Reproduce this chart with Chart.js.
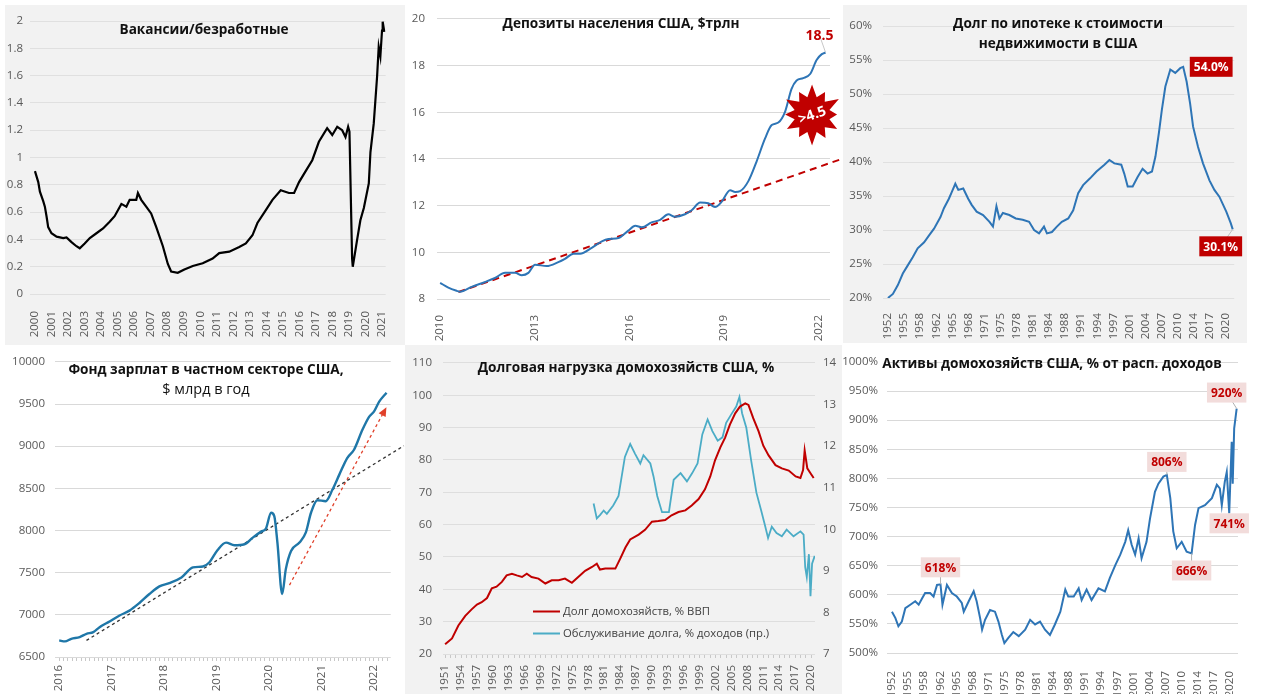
<!DOCTYPE html>
<html>
<head>
<meta charset="utf-8">
<script src="https://cdn.jsdelivr.net/npm/chart.js@4.4.1/dist/chart.umd.min.js"></script>
<style>
  body { margin: 0; width: 1280px; height: 694px; position: relative; overflow: hidden; background: #fff; font-family: 'Open Sans', sans-serif; }
  .panel { position: absolute; }
  .panel canvas { position: absolute; left: 0; top: 0; }
  .ttl { position: absolute; transform: translate(-50%, -50%); white-space: nowrap; font-weight: bold; font-size: 13.6px; color: #111; }
  .ttl.thin { font-weight: normal; font-size: 14.5px; }
  .leg { position: absolute; font-size: 11.3px; color: #404040; white-space: nowrap; transform: translateY(-50%); }
  .leg i { display: inline-block; width: 27px; height: 2px; vertical-align: middle; margin-right: 3px; }
</style>
</head>
<body>

<div class="panel" style="left:5px;top:5px;width:400px;height:340px;background:#f2f2f2"><canvas id="vu" width="400" height="340"></canvas></div>
<div class="panel" style="left:405px;top:0;width:438px;height:343px;background:#fff"><canvas id="dep" width="438" height="343"></canvas></div>
<div class="panel" style="left:843px;top:5px;width:404px;height:338px;background:#f2f2f2"><canvas id="mort" width="404" height="338"></canvas></div>
<div class="panel" style="left:0;top:345px;width:405px;height:349px;background:#fff"><canvas id="pay" width="405" height="349"></canvas></div>
<div class="panel" style="left:405px;top:345px;width:437px;height:349px;background:#f2f2f2"><canvas id="debt" width="437" height="349"></canvas></div>
<div class="panel" style="left:843px;top:345px;width:437px;height:349px;background:#fff"><canvas id="assets" width="437" height="349"></canvas></div>

<div class="ttl" style="left:204px;top:28px">Вакансии/безработные</div>
<div class="ttl" style="left:621px;top:22px">Депозиты населения США, $трлн</div>
<div class="ttl" style="left:1058px;top:22px">Долг по ипотеке к стоимости</div>
<div class="ttl" style="left:1058px;top:42px">недвижимости в США</div>
<div class="ttl" style="left:206px;top:368px">Фонд зарплат в частном секторе США,</div>
<div class="ttl thin" style="left:206px;top:388px">$ млрд в год</div>
<div class="ttl" style="left:626px;top:366px">Долговая нагрузка домохозяйств США, %</div>
<div class="ttl" style="left:1052px;top:362px">Активы домохозяйств США, % от расп. доходов</div>

<div class="leg" style="left:533px;top:610px"><i style="background:#c00000"></i>Долг домохозяйств, % ВВП</div>
<div class="leg" style="left:533px;top:632px"><i style="background:#4bacc6"></i>Обслуживание долга, % доходов (пр.)</div>

<script>
// ---- Вакансии/безработные ----
const vuYears = [2000.00, 2000.20, 2000.30, 2000.50, 2000.60, 2000.70, 2000.80, 2001.00, 2001.31, 2001.71,
  2001.91, 2002.21, 2002.51, 2002.71, 2003.01, 2003.32, 2003.72, 2004.12, 2004.52, 2004.82,
  2005.23, 2005.53, 2005.73, 2006.13, 2006.23, 2006.43, 2006.73, 2007.03, 2007.34, 2007.74,
  2008.04, 2008.24, 2008.64, 2009.04, 2009.55, 2010.15, 2010.75, 2011.15, 2011.76, 2012.36,
  2012.76, 2013.16, 2013.46, 2013.97, 2014.37, 2014.87, 2015.37, 2015.68, 2015.98, 2016.38,
  2016.78, 2017.18, 2017.68, 2017.99, 2018.29, 2018.59, 2018.79, 2018.95, 2019.03, 2019.19,
  2019.23, 2019.49, 2019.69, 2019.90, 2020.20, 2020.30, 2020.50, 2020.70, 2020.80, 2020.90,
  2021.00, 2021.04, 2021.14];
const vuValues = [0.90, 0.82, 0.75, 0.68, 0.64, 0.57, 0.49, 0.445, 0.42, 0.41,
  0.415, 0.38, 0.35, 0.335, 0.37, 0.41, 0.445, 0.48, 0.53, 0.57,
  0.66, 0.64, 0.69, 0.69, 0.74, 0.69, 0.64, 0.59, 0.49, 0.35,
  0.22, 0.165, 0.155, 0.18, 0.205, 0.225, 0.26, 0.30, 0.31, 0.345,
  0.37, 0.43, 0.52, 0.615, 0.69, 0.76, 0.74, 0.74, 0.82, 0.90,
  0.98, 1.115, 1.215, 1.165, 1.225, 1.20, 1.15, 1.225, 1.19, 0.26,
  0.20, 0.395, 0.54, 0.63, 0.81, 1.04, 1.25, 1.59, 1.81, 1.74,
  1.93, 1.995, 1.92];
const vuTicks = [2000, 2001, 2002, 2003, 2004, 2005, 2006, 2007, 2008, 2009, 2010,
  2011, 2012, 2013, 2014, 2015, 2016, 2017, 2018, 2019, 2020, 2021];

// ---- Депозиты населения ----
const depYears = [2010.0, 2010.26, 2010.53, 2010.63, 2011.0, 2011.43, 2011.74, 2012.06, 2012.38, 2012.59,
  2012.8, 2013.01, 2013.38, 2013.75, 2013.96, 2014.23, 2014.44, 2014.81, 2015.13, 2015.34,
  2015.66, 2015.97, 2016.19, 2016.4, 2016.71, 2016.98, 2017.24, 2017.45, 2017.77, 2017.98,
  2018.25, 2018.51, 2018.72, 2018.93, 2019.2, 2019.36, 2019.52, 2019.78, 2020.04, 2020.31,
  2020.52, 2020.73, 2020.94, 2021.15, 2021.31, 2021.52, 2021.74, 2021.95, 2022.11, 2022.23];
const depValues = [8.69, 8.49, 8.35, 8.31, 8.52, 8.73, 8.9, 9.12, 9.12, 9.02,
  9.12, 9.47, 9.41, 9.58, 9.72, 9.94, 9.94, 10.19, 10.47, 10.57,
  10.61, 10.93, 11.14, 11.07, 11.28, 11.39, 11.63, 11.52, 11.63, 11.8,
  12.13, 12.1, 11.94, 12.16, 12.66, 12.58, 12.62, 13.05, 13.89, 14.88,
  15.45, 15.56, 16.01, 17.0, 17.36, 17.46, 17.64, 18.25, 18.49, 18.56];
const depTrendYears = [2010.58, 2022.85];
const depTrendValues = [8.3, 14.05];
const depTicks = [2010, 2013, 2016, 2019, 2022];

// ---- Долг по ипотеке к стоимости недвижимости ----
const mortYears = [1952.0, 1953.0, 1954.0, 1955.0, 1956.0, 1957.0, 1958.0, 1959.3, 1960.3, 1961.3,
  1962.6, 1963.3, 1964.3, 1964.9, 1965.6, 1966.2, 1967.2, 1968.2, 1968.9, 1969.9,
  1971.2, 1972.5, 1973.2, 1973.9, 1974.5, 1975.2, 1976.5, 1977.8, 1979.2, 1980.5,
  1981.5, 1982.5, 1983.5, 1984.1, 1985.1, 1986.1, 1987.1, 1988.4, 1989.4, 1990.4,
  1991.4, 1992.8, 1994.1, 1995.7, 1996.7, 1997.7, 1999.1, 1999.7, 2000.4, 2001.4,
  2002.4, 2003.4, 2004.4, 2005.3, 2006.0, 2006.7, 2007.3, 2008.0, 2009.0, 2010.0,
  2011.0, 2011.6, 2012.3, 2013.0, 2013.6, 2014.6, 2015.6, 2016.9, 2017.9, 2018.9,
  2020.3, 2021.2, 2021.6];
const mortValues = [20.0, 20.6, 21.9, 23.6, 24.8, 26.0, 27.3, 28.2, 29.2, 30.2,
  31.9, 33.2, 34.6, 35.6, 36.8, 35.9, 36.1, 34.6, 33.7, 32.7,
  32.2, 31.2, 30.5, 33.5, 31.7, 32.5, 32.2, 31.7, 31.5, 31.2,
  30.0, 29.5, 30.5, 29.5, 29.7, 30.5, 31.2, 31.7, 32.9, 35.4,
  36.6, 37.6, 38.6, 39.6, 40.3, 39.8, 39.6, 38.3, 36.4, 36.4,
  37.8, 39.0, 38.3, 38.6, 40.8, 44.3, 47.7, 51.1, 53.6, 53.1,
  53.8, 54.0, 51.8, 48.6, 45.2, 42.2, 39.8, 37.3, 35.9, 34.9,
  32.7, 31.0, 30.1];
const longTickLabels = ['1952', '1955', '1958', '1962', '1965', '1968', '1971', '1975', '1978', '1981', '1984',
  '1988', '1991', '1994', '1997', '2001', '2004', '2007', '2010', '2014', '2017', '2020'];

// ---- Фонд зарплат ----
const payYears = [2016.0, 2016.11, 2016.23, 2016.39, 2016.52, 2016.65, 2016.77, 2016.96, 2017.15, 2017.34,
  2017.53, 2017.72, 2017.91, 2018.1, 2018.33, 2018.55, 2018.74, 2018.86, 2019.02, 2019.18,
  2019.34, 2019.53, 2019.69, 2019.85, 2019.94, 2020.04, 2020.1, 2020.16, 2020.25, 2020.32,
  2020.42, 2020.58, 2020.7, 2020.8, 2020.92, 2021.08, 2021.21, 2021.34, 2021.49, 2021.62,
  2021.78, 2021.91, 2022.0, 2022.1, 2022.24];
const payValues = [6697, 6685, 6716, 6736, 6775, 6795, 6854, 6921, 6992, 7050,
  7141, 7247, 7338, 7377, 7444, 7562, 7574, 7621, 7770, 7857,
  7825, 7837, 7916, 7987, 8022, 8211, 8171, 7857, 7247, 7542,
  7758, 7857, 7975, 8211, 8360, 8348, 8486, 8663, 8860, 8958,
  9194, 9351, 9410, 9528, 9634];
const payTrendYears = [2016.52, 2022.57];
const payTrendValues = [6697, 9005];
const payArrowYears = [2020.39, 2022.22];
const payArrowValues = [7353, 9441];
const payTicks = [2016, 2017, 2018, 2019, 2020, 2021, 2022];

// ---- Долговая нагрузка домохозяйств ----
const debtYears = [1951.0, 1952.3, 1953.5, 1954.8, 1956.0, 1957.0, 1957.9, 1958.9, 1959.8, 1960.7,
  1961.7, 1962.6, 1963.6, 1964.5, 1965.5, 1966.4, 1967.3, 1968.6, 1969.9, 1971.1,
  1972.4, 1973.6, 1974.9, 1976.1, 1977.4, 1978.7, 1979.6, 1980.2, 1981.2, 1982.1,
  1983.1, 1984.0, 1985.0, 1985.9, 1987.5, 1988.7, 1990.0, 1991.2, 1992.5, 1993.7,
  1995.0, 1996.3, 1997.5, 1998.8, 2000.0, 2001.0, 2001.9, 2002.9, 2003.8, 2004.7,
  2005.7, 2006.6, 2007.6, 2008.2, 2009.1, 2010.1, 2011.0, 2012.0, 2013.3, 2014.5,
  2015.8, 2017.1, 2018.0, 2018.5, 2018.8, 2019.3, 2019.9, 2020.5];
const debtValues = [23.0, 24.8, 28.8, 31.8, 33.8, 35.3, 36.0, 37.3, 40.3, 40.8,
  42.3, 44.3, 44.8, 44.3, 43.8, 44.8, 43.8, 43.3, 41.8, 42.8,
  42.8, 43.3, 42.0, 43.8, 45.7, 46.9, 47.9, 46.1, 46.4, 46.4,
  46.4, 49.4, 52.9, 55.4, 56.9, 58.4, 60.9, 61.1, 61.4, 62.9,
  63.9, 64.4, 65.9, 67.9, 70.9, 74.9, 79.9, 83.9, 86.9, 90.9,
  94.4, 96.5, 97.5, 97.0, 92.9, 88.9, 84.4, 81.4, 78.4, 77.4,
  76.7, 74.9, 74.4, 76.9, 82.9, 77.4, 75.9, 74.4];
const svcYears = [1979.0, 1979.6, 1980.2, 1980.9, 1981.5, 1982.7, 1983.7, 1984.3, 1984.9, 1985.9,
  1986.8, 1987.8, 1988.4, 1989.7, 1990.3, 1991.0, 1991.9, 1993.2, 1994.1, 1995.4,
  1996.6, 1997.6, 1998.6, 1999.5, 2000.5, 2001.4, 2002.4, 2003.3, 2004.0, 2004.9,
  2005.9, 2006.5, 2007.0, 2007.8, 2008.7, 2009.7, 2010.6, 2011.3, 2011.9, 2012.6,
  2013.5, 2014.5, 2015.4, 2016.7, 2018.0, 2018.6, 2018.9, 2019.2, 2019.6, 2019.9,
  2020.2, 2020.7];
const svcValues = [10.62, 10.26, 10.34, 10.45, 10.37, 10.57, 10.80, 11.27, 11.74, 12.05,
  11.82, 11.58, 11.78, 11.58, 11.27, 10.80, 10.41, 10.41, 11.19, 11.35,
  11.15, 11.35, 11.58, 12.28, 12.64, 12.36, 12.13, 12.21, 12.56, 12.75,
  12.95, 13.18, 12.79, 12.44, 11.66, 10.88, 10.45, 10.10, 9.79, 10.06,
  9.91, 9.83, 9.99, 9.83, 9.95, 9.87, 9.09, 8.85, 9.40, 8.39,
  9.17, 9.36];
const debtTicks = [1951, 1954, 1957, 1960, 1963, 1966, 1969, 1972, 1975, 1978, 1981, 1984,
  1987, 1990, 1993, 1996, 1999, 2002, 2005, 2008, 2011, 2014, 2017, 2020];

// ---- Активы домохозяйств ----
const assetYears = [1952.0, 1952.7, 1953.3, 1954.0, 1954.7, 1955.7, 1956.7, 1957.4, 1958.1, 1958.7,
  1959.7, 1960.4, 1961.1, 1961.8, 1962.2, 1963.1, 1964.1, 1965.1, 1966.1, 1966.5,
  1967.5, 1968.5, 1969.1, 1969.8, 1970.2, 1970.8, 1971.8, 1972.8, 1973.5, 1974.2,
  1974.7, 1975.5, 1976.5, 1977.6, 1978.9, 1979.9, 1980.9, 1981.9, 1982.9, 1983.9,
  1984.9, 1986.0, 1987.0, 1987.6, 1988.7, 1989.7, 1990.3, 1991.3, 1992.3, 1993.7,
  1995.0, 1996.0, 1997.1, 1998.1, 1999.1, 1999.7, 2000.4, 2001.1, 2001.8, 2002.4,
  2003.4, 2004.1, 2005.1, 2005.8, 2006.8, 2007.5, 2008.2, 2008.8, 2009.5, 2010.5,
  2011.5, 2012.5, 2013.2, 2013.9, 2015.2, 2016.6, 2017.6, 2018.2, 2018.6, 2019.2,
  2019.6, 2020.1, 2020.6, 2020.8, 2021.1, 2021.6];
const assetValues = [571, 560, 546, 554, 577, 583, 589, 583, 594, 603,
  603, 597, 617, 618, 583, 617, 603, 597, 586, 571,
  589, 606, 589, 560, 540, 557, 574, 571, 554, 531,
  517, 526, 536, 529, 540, 557, 549, 554, 540, 531,
  549, 571, 609, 597, 597, 611, 591, 609, 591, 611,
  606, 629, 651, 669, 691, 711, 686, 669, 697, 663,
  691, 731, 777, 791, 803, 806, 766, 709, 680, 691,
  674, 671, 720, 749, 754, 766, 789, 783, 754, 794,
  811, 740, 863, 791, 886, 920];

Chart.defaults.font.family = "'Open Sans', sans-serif";
Chart.defaults.font.size = 11.5;
Chart.defaults.color = '#595959';
Chart.defaults.animation = false;

const pts = (xs, ys) => xs.map((x, i) => ({ x: x, y: ys[i] }));

// labels, boxes and the starburst, placed from data coordinates
const notes = {
  id: 'notes',
  afterDatasetsDraw(chart, args, opts) {
    const ctx = chart.ctx;
    (opts.items || []).forEach(it => {
      const px = chart.scales.x.getPixelForValue(it.x);
      const py = chart.scales[it.axis || 'y'].getPixelForValue(it.y);
      const cx = px + (it.dx || 0), cy = py + (it.dy || 0);
      ctx.save();
      if (it.lead) {
        ctx.strokeStyle = it.lead; ctx.lineWidth = 1;
        ctx.beginPath(); ctx.moveTo(px, py); ctx.lineTo(cx, cy); ctx.stroke();
      }
      if (it.star) {
        ctx.fillStyle = it.star;
        ctx.beginPath();
        it.spikes.forEach((r, k) => {
          const a = k / it.spikes.length * Math.PI * 2 - Math.PI / 2;
          const rr = k % 2 ? r * 0.6 : r;
          const sx = cx + Math.cos(a) * rr, sy = cy + Math.sin(a) * rr;
          k ? ctx.lineTo(sx, sy) : ctx.moveTo(sx, sy);
        });
        ctx.closePath(); ctx.fill();
      }
      ctx.font = it.font;
      const w = ctx.measureText(it.text).width;
      if (it.bg) {
        ctx.fillStyle = it.bg;
        ctx.fillRect(cx - w / 2 - 4, cy - 10, w + 8, 20);
      }
      ctx.translate(cx, cy);
      ctx.rotate(it.rot || 0);
      ctx.fillStyle = it.color;
      ctx.textAlign = 'center';
      ctx.textBaseline = 'middle';
      ctx.fillText(it.text, 0, 1);
      ctx.restore();
    });
  }
};

// arrow head on the last segment of datasets that ask for it
const arrowHead = {
  id: 'arrowHead',
  afterDatasetsDraw(chart) {
    const ctx = chart.ctx;
    chart.data.datasets.forEach((ds, i) => {
      if (!ds.arrow) return;
      const p = chart.getDatasetMeta(i).data;
      const a = p[p.length - 2], b = p[p.length - 1];
      const ang = Math.atan2(b.y - a.y, b.x - a.x);
      ctx.save();
      ctx.translate(b.x, b.y); ctx.rotate(ang);
      ctx.fillStyle = ds.borderColor;
      ctx.beginPath(); ctx.moveTo(2, 0); ctx.lineTo(-7, -4); ctx.lineTo(-7, 4); ctx.closePath(); ctx.fill();
      ctx.restore();
    });
  }
};
Chart.register(notes, arrowHead);

function yAxis(min, max, step, width, pad, fmt, grid) {
  return {
    min: min, max: max,
    border: { display: false },
    grid: { color: grid || '#d9d9d9', drawTicks: false },
    ticks: { stepSize: step, padding: pad, callback: fmt },
    afterFit: s => { s.width = width; }
  };
}

function xAxis(min, max, height, pad, tickValues, labelFor, minor) {
  return {
    type: 'linear', min: min, max: max,
    border: { display: false },
    grid: minor ? { drawOnChartArea: false, drawTicks: true, tickLength: 4, color: '#c8c8c8' } : { display: false },
    ticks: { autoSkip: false, minRotation: 90, maxRotation: 90, padding: pad, callback: labelFor },
    afterBuildTicks: s => { s.ticks = tickValues.map(v => ({ value: v })); },
    afterFit: s => { s.height = height; }
  };
}

function lineSet(data, color, width, extra) {
  return Object.assign({ data: data, borderColor: color, borderWidth: width, pointRadius: 0, fill: false, tension: 0 }, extra || {});
}

// Вакансии/безработные
new Chart(document.getElementById('vu'), {
  type: 'line',
  data: { datasets: [lineSet(pts(vuYears, vuValues), '#000', 2.2)] },
  options: {
    responsive: false,
    layout: { padding: { top: 16, right: 18 } },
    plugins: { legend: { display: false }, tooltip: { enabled: false } },
    scales: {
      x: xAxis(1999.7, 2021.22, 51, 9, vuTicks, v => String(Math.round(v))),
      y: yAxis(0, 2, 0.2, 25, 7, v => String(+v.toFixed(1)), '#e0e0e0')
    }
  }
});

// Депозиты населения США
new Chart(document.getElementById('dep'), {
  type: 'line',
  data: {
    datasets: [
      lineSet(pts(depYears, depValues), '#2e75b6', 2, { cubicInterpolationMode: 'monotone' }),
      lineSet(pts(depTrendYears, depTrendValues), '#c00000', 2, { borderDash: [7, 5], clip: false })
    ]
  },
  options: {
    responsive: false,
    layout: { padding: { top: 16, right: 13 } },
    plugins: {
      legend: { display: false }, tooltip: { enabled: false },
      notes: { items: [
        { x: 2022.23, y: 18.56, dx: -6, dy: -17, text: '18.5', font: 'bold 14px "Open Sans"', color: '#c00000', lead: '#c8c8c8' },
        { x: 2021.8, y: 15.9, text: '>4.5', font: 'bold 14px "Open Sans"', color: '#fff', rot: -0.35, star: '#c00000',
          spikes: [30, 30, 26, 30, 31, 30, 25, 30, 29, 30, 27, 30, 31, 30, 26, 30, 29, 30, 27, 30, 30, 30, 26, 30] }
      ] }
    },
    scales: {
      x: xAxis(2009.9, 2022.37, 44, 8, depTicks, v => String(Math.round(v))),
      y: yAxis(8, 20, 2, 32, 12, v => String(v))
    }
  }
});

// Долг по ипотеке к стоимости недвижимости в США
new Chart(document.getElementById('mort'), {
  type: 'line',
  data: { datasets: [lineSet(pts(mortYears, mortValues), '#2e75b6', 2)] },
  options: {
    responsive: false,
    layout: { padding: { top: 21, right: 7 } },
    plugins: {
      legend: { display: false }, tooltip: { enabled: false },
      notes: { items: [
        { x: 2011.6, y: 54.0, dx: 28, text: '54.0%', font: 'bold 12px "Open Sans"', color: '#fff', bg: '#c00000' },
        { x: 2021.6, y: 30.1, dx: -12, dy: 17, text: '30.1%', font: 'bold 12px "Open Sans"', color: '#fff', bg: '#c00000', lead: '#bfbfbf' }
      ] }
    },
    scales: {
      x: xAxis(1951.0, 2021.9, 45, 7, longTickLabels.map((l, i) => 1952 + 3.25 * i), (v, i) => longTickLabels[i]),
      y: yAxis(20, 60, 5, 40, 11, v => v + '%', '#e0e0e0')
    }
  }
});

// Фонд зарплат в частном секторе США
const payMonths = [];
payTicks.forEach(y => { for (let m = 0; m < 12; m++) if (y + m / 12 <= 2022.3) payMonths.push(y + m / 12); });
new Chart(document.getElementById('pay'), {
  type: 'line',
  data: {
    datasets: [
      lineSet(pts(payYears, payValues), '#1f77a8', 2.4, { cubicInterpolationMode: 'monotone' }),
      lineSet(pts(payTrendYears, payTrendValues), '#333', 1.3, { borderDash: [3, 3], clip: false }),
      lineSet(pts(payArrowYears, payArrowValues), '#e0402a', 1.3, { borderDash: [3, 3], arrow: true })
    ]
  },
  options: {
    responsive: false,
    layout: { padding: { top: 15, right: 13 } },
    plugins: { legend: { display: false }, tooltip: { enabled: false } },
    scales: {
      x: xAxis(2015.92, 2022.32, 37, 4, payMonths, v => (payTicks.includes(Math.round(v)) && Math.abs(v - Math.round(v)) < 1e-6) ? String(Math.round(v)) : '', true),
      y: yAxis(6500, 10000, 500, 55, 10, v => String(v))
    }
  }
});

// Долговая нагрузка домохозяйств США
const debtYearTicks = [];
for (let y = debtTicks[0]; y <= debtTicks[debtTicks.length - 1]; y++) debtYearTicks.push(y);
const debtRight = yAxis(7, 14, 1, 27, 8, v => String(v));
debtRight.position = 'right';
debtRight.grid = { drawOnChartArea: false, drawTicks: false };
new Chart(document.getElementById('debt'), {
  type: 'line',
  data: {
    datasets: [
      lineSet(pts(debtYears, debtValues), '#c00000', 2),
      lineSet(pts(svcYears, svcValues), '#4bacc6', 1.8, { yAxisID: 'y1' })
    ]
  },
  options: {
    responsive: false,
    layout: { padding: { top: 10, right: 0 } },
    plugins: { legend: { display: false }, tooltip: { enabled: false } },
    scales: {
      x: xAxis(1950.6, 2020.75, 40, 7, debtYearTicks, v => debtTicks.includes(Math.round(v)) ? String(Math.round(v)) : '', true),
      y: yAxis(20, 110, 10, 38, 11, v => String(v), '#dedede'),
      y1: debtRight
    }
  }
});

// Активы домохозяйств США, % от располагаемых доходов
const pinkTag = { font: 'bold 12px "Open Sans"', color: '#c00000', bg: '#f2dcdb', lead: '#b0b0b0' };
new Chart(document.getElementById('assets'), {
  type: 'line',
  data: { datasets: [lineSet(pts(assetYears, assetValues), '#2e75b6', 2)] },
  options: {
    responsive: false,
    layout: { padding: { top: 17, right: 42 } },
    plugins: {
      legend: { display: false }, tooltip: { enabled: false },
      notes: { items: [
        Object.assign({ x: 1961.8, y: 618, dy: -17, text: '618%' }, pinkTag),
        Object.assign({ x: 2007.5, y: 806, dy: -13, text: '806%' }, pinkTag),
        Object.assign({ x: 2012.5, y: 671, dy: 17, text: '666%' }, pinkTag),
        Object.assign({ x: 2020.1, y: 740, dy: 10, text: '741%' }, pinkTag),
        Object.assign({ x: 2021.6, y: 920, dx: -10, dy: -16, text: '920%' }, pinkTag)
      ] }
    },
    scales: {
      x: xAxis(1951.0, 2021.87, 41, 10, longTickLabels.map((l, i) => 1952 + 3.25 * i), (v, i) => longTickLabels[i]),
      y: yAxis(500, 1000, 50, 44, 9, v => v + '%')
    }
  }
});
</script>
</body>
</html>
